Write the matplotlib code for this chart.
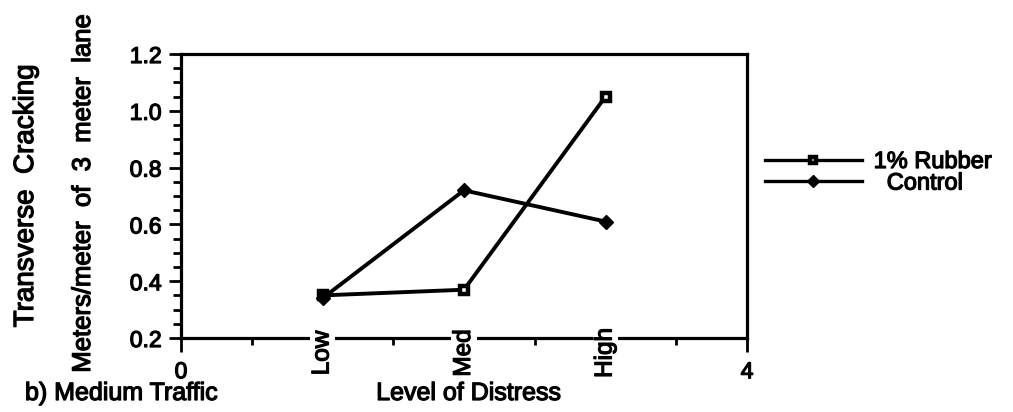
import matplotlib
matplotlib.use("Agg")
import matplotlib.pyplot as plt
from matplotlib.ticker import MultipleLocator, FixedLocator
import matplotlib.transforms as mtransforms
import matplotlib.patheffects as pe

# ---- data ----
categories = ["Low", "Med", "High"]
cat_pos = [1, 2, 3]
rubber = [0.35, 0.37, 1.05]
control = [0.34, 0.72, 0.61]
series_labels = ["1% Rubber", "  Control"]
y_ticks = [0.2, 0.4, 0.6, 0.8, 1.0, 1.2]
x_end_ticks = [0, 4]
x_end_labels = ["0", "4"]

plt.rcParams['font.family'] = ['Liberation Sans', 'DejaVu Sans']
heavy = [pe.withStroke(linewidth=0.9, foreground='black')]

W, H = 1013, 412
fig = plt.figure(figsize=(W / 100, H / 100), dpi=100)
ax = fig.add_axes([181 / W, 1 - 338 / H, (747 - 181) / W, (338 - 54) / H])

lw = 2.8
ax.plot(cat_pos, rubber, color='black', lw=lw, marker='s', ms=6.3, mew=3.2,
        mfc='white', mec='black', label=series_labels[0], zorder=4)
ax.plot(cat_pos, control, color='black', lw=lw, marker='D', ms=7.5, mew=1,
        mfc='black', mec='black', label=series_labels[1], zorder=4)

ax.set_xlim(0, 4)
ax.set_ylim(0.2, 1.2)

for s in ax.spines.values():
    s.set_linewidth(2.3)

ax.yaxis.set_major_locator(FixedLocator(y_ticks))
ax.yaxis.set_minor_locator(MultipleLocator(0.05))
ax.set_yticklabels([f"{v:.1f}" for v in y_ticks])
ax.tick_params(axis='y', which='major', direction='out', length=9, width=2,
               labelsize=16.5, pad=5)
ax.tick_params(axis='y', which='minor', direction='out', length=6, width=2)

ax.xaxis.set_major_locator(FixedLocator(x_end_ticks))
ax.xaxis.set_minor_locator(FixedLocator([0.5, 1.5, 2.5, 3.5]))
ax.set_xticklabels(x_end_labels)
ax.tick_params(axis='x', which='major', direction='out', length=10, width=2,
               labelsize=16.5, pad=6)
ax.tick_params(axis='x', which='minor', direction='out', length=5, width=2)

for lab in ax.get_xticklabels() + ax.get_yticklabels():
    lab.set_path_effects(heavy)

# category labels sitting on the axis line (break it with white boxes)
off = mtransforms.ScaledTranslation(0, -15 / 100, fig.dpi_scale_trans)
trans = mtransforms.blended_transform_factory(ax.transData, ax.transAxes) + off
for xp, c in zip(cat_pos, categories):
    ax.text(xp, 0, c, rotation=90, ha='center', va='center', fontsize=17.5,
            transform=trans, zorder=5, clip_on=False, path_effects=heavy,
            bbox=dict(boxstyle='square,pad=0.08', fc='white', ec='none'))

fig.text(26 / W, 1 - 196 / H, "Transverse  Cracking", rotation=90,
         ha='center', va='center', fontsize=20, path_effects=heavy)
fig.text(83 / W, 1 - 193 / H, "Meters/meter  of  3  meter  lane", rotation=90,
         ha='center', va='center', fontsize=18.5, path_effects=heavy)
fig.text(25 / W, 1 - 400 / H, "b) Medium Traffic", ha='left', va='baseline',
         fontsize=18, path_effects=heavy)
fig.text(468.5 / W, 1 - 400 / H, "Level of Distress", ha='center',
         va='baseline', fontsize=18, path_effects=heavy)

leg = fig.legend(loc='upper left', bbox_to_anchor=(765 / W, 1 - 151 / H),
                 frameon=False, fontsize=17, handlelength=4.1,
                 handletextpad=0.5, labelspacing=-0.02, borderpad=0,
                 borderaxespad=0)
for t in leg.get_texts():
    t.set_path_effects(heavy)
for h in leg.legend_handles:
    h.set_linewidth(2.4)
leg.legend_handles[0].set_markersize(5.0)
leg.legend_handles[1].set_markersize(6.5)

fig.savefig("out.png", dpi=100, facecolor='white')
